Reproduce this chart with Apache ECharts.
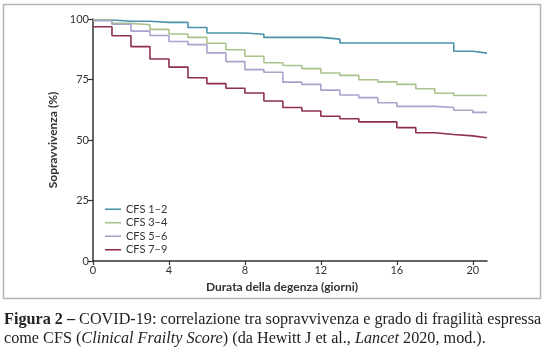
<!DOCTYPE html>
<html>
<head>
<meta charset="utf-8">
<script src="https://cdn.jsdelivr.net/npm/echarts@6/dist/echarts.min.js"></script>
<style>
html,body{margin:0;padding:0;background:#fff;}
#c{width:550px;height:355px;}
</style>
</head>
<body>
<div id="c"></div>
<script>
// ---- data ----
const days = [0,1,2,3,4,5,6,7,8,9,10,11,12,13,14,15,16,17,18,19,20,20.75];
const seriesNames = ['CFS 1–2','CFS 3–4','CFS 5–6','CFS 7–9'];
const cfs12 = [99.6,99.1,99.1,98.6,98.6,96.5,94.2,94.2,93.7,92.4,92.4,92.4,91.7,90.1,90.1,90.1,90.1,90.1,90.1,86.7,85.9,85.9];
const cfs34 = [99.6,98.2,97.6,95.7,93.8,92.4,90.0,87.3,84.6,81.9,80.8,79.5,77.7,76.7,74.9,74.0,73.0,71.2,69.3,68.4,68.4,68.4];
const cfs56 = [99.3,97.8,95.0,93.2,90.7,89.4,86.0,82.4,79.1,78.0,73.9,73.0,70.6,68.6,67.5,65.4,63.9,63.9,63.4,62.3,61.4,61.4];
const cfs79 = [96.8,93.1,88.6,83.5,80.1,75.7,73.3,71.4,69.4,66.1,63.4,62.0,59.8,58.8,57.5,57.5,55.1,53.0,52.3,51.7,50.9,50.9];
const xTicks = [0,4,8,12,16,20];
const yTicks = [0,25,50,75,100];
const xTitle = 'Durata della degenza (giorni)';
const yTitle = 'Sopravvivenza (%)';

const colors = ['#4a93ab','#aac38e','#a9a3cc','#8e2f52'];
const allValues = [cfs12, cfs34, cfs56, cfs79];

const chart = echarts.init(document.getElementById('c'), null, {renderer:'canvas'});
const axisFont = 'Lato, "Open Sans", sans-serif';
const capFont = '"Liberation Serif", serif';
const capSize = 16.2;

chart.setOption({
  animation:false,
  backgroundColor:'#fff',
  grid:{left:93, right:63, top:19, bottom:94},
  legend:{
    orient:'vertical', left:100, top:198,
    icon:'rect', itemWidth:16, itemHeight:1.6, itemGap:1,
    textStyle:{fontFamily:axisFont, fontSize:11, color:'#333', lineHeight:12.5},
    data:seriesNames
  },
  xAxis:{
    type:'value', min:0, max:20.75, interval:4,
    axisLine:{lineStyle:{color:'#333', width:1.5}},
    axisTick:{show:true, length:4, lineStyle:{color:'#333', width:1.2}, customValues:xTicks},
    axisLabel:{fontFamily:axisFont, fontSize:11, color:'#333', margin:4, customValues:xTicks},
    splitLine:{show:false},
    name:xTitle, nameLocation:'middle', nameGap:20,
    nameTextStyle:{fontFamily:axisFont, fontSize:12, color:'#333', fontWeight:'bold', padding:[0,16,0,0]}
  },
  yAxis:{
    type:'value', min:0, max:100, interval:25,
    axisLine:{show:true, lineStyle:{color:'#333', width:1.5}},
    axisTick:{show:true, length:5, lineStyle:{color:'#333', width:1.2}, customValues:yTicks},
    axisLabel:{fontFamily:axisFont, fontSize:11, color:'#333', margin:4, customValues:yTicks},
    splitLine:{show:false},
    name:yTitle, nameLocation:'middle', nameGap:29, nameRotate:90,
    nameTextStyle:{fontFamily:axisFont, fontSize:12, color:'#333', fontWeight:'bold'}
  },
  series: seriesNames.map((n,i)=>({
    name:n, type:'line', step:'end', symbol:'none',
    lineStyle:{color:colors[i], width:1.6},
    itemStyle:{color:colors[i]},
    data: days.map((d,j)=>[d, allValues[i][j]])
  })),
  graphic:[
    {type:'rect', shape:{x:3.5, y:4.5, width:537, height:294}, style:{fill:'none', stroke:'#b4b4b4', lineWidth:1.5}, z:-1},
    {type:'text', left:4, top:312, style:{
      text:'{b|Figura 2 –} COVID-19: correlazione tra sopravvivenza e grado di fragilità espressa',
      font:capSize+'px '+capFont, fill:'#222',
      rich:{b:{font:'bold '+capSize+'px '+capFont, fill:'#222'}}
    }},
    {type:'text', left:4, top:331, style:{
      text:'come CFS ({i|Clinical Frailty Score}) (da Hewitt J et al., {i|Lancet} 2020, mod.).',
      font:capSize+'px '+capFont, fill:'#222',
      rich:{i:{font:'italic '+capSize+'px '+capFont, fill:'#222'}}
    }}
  ]
});
</script>
</body>
</html>
